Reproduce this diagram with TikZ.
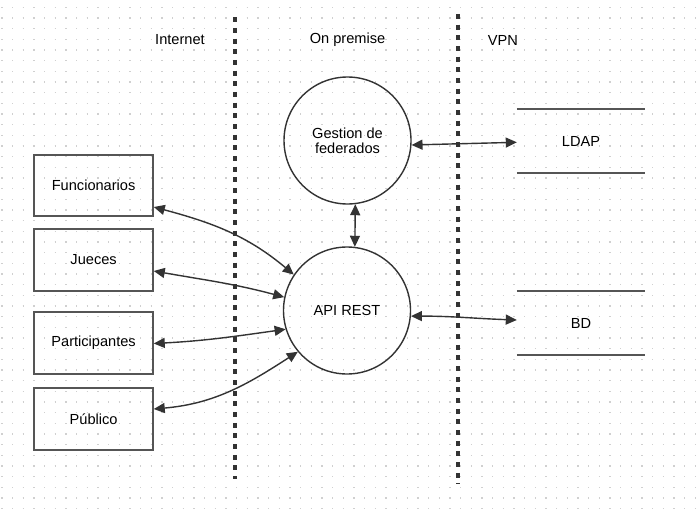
\documentclass[tikz,border=0pt]{standalone}
\usepackage{fontspec}
\setmainfont{Liberation Sans}
\usetikzlibrary{arrows.meta}
\definecolor{linec}{HTML}{333333}
\definecolor{boxc}{HTML}{555555}
\definecolor{gridc}{HTML}{D0D0D0}
\tikzset{
  lbl/.style={font=\fontsize{14.6}{17}\selectfont, text=black, inner sep=0pt, align=center},
  actor/.style={lbl, draw=boxc, line width=1.8pt, minimum width=118.5pt, minimum height=61.5pt},
  proc/.style={lbl, draw=linec, line width=1.4pt, circle, minimum size=127pt, inner sep=0pt},
  store/.style={lbl, minimum width=128pt, minimum height=64pt},
  storeline/.style={draw=boxc, line width=1.8pt},
  zone/.style={draw=linec, line width=3.2pt, dash pattern=on 5pt off 5.67pt},
  conn/.style={draw=linec, line width=1.4pt, {Triangle[length=11pt,width=10pt]}-{Triangle[length=11pt,width=10pt]}}
}
\begin{document}
\begin{tikzpicture}[x=1pt,y=-1pt]
\useasboundingbox (0,0) rectangle (700,508);
\fill[white] (0,0) rectangle (700,508);
% grid
\foreach \k in {0,...,47}{
  \draw[gridc, line width=1.2pt, dash pattern=on 1.2pt off 9.467pt] (1.4,7.3+\k*10.667) -- (700,7.3+\k*10.667);
}
% zone separators
\coordinate (z1t) at (235,17.3);
\coordinate (z1b) at (235,479);
\coordinate (z2t) at (458,14);
\coordinate (z2b) at (458,484);
\draw[zone] (z1t) -- (z1b);
\draw[zone] (z2t) -- (z2b);
% zone labels
\node[lbl] (internet) at (180,40) {Internet};
\node[lbl] (onprem) at (347.5,40) {On premise};
\node[lbl] (vpn) at (503,40) {VPN};
% actors
\node[actor] (fun) at (93.6,185.5) {Funcionarios};
\node[actor] (jue) at (93.6,260) {Jueces};
\node[actor] (par) at (93.6,343) {Participantes};
\node[actor] (pub) at (93.6,419) {Público};
% processes
\node[proc] (gest) at (347.5,140.5) {Gestion de\\[-2pt]federados};
\node[proc] (api) at (347,310.5) {API REST};
% stores
\node[store] (ldap) at (581,141) {LDAP};
\node[store] (bd) at (581,323) {BD};
\draw[storeline] (ldap.north west) -- (ldap.north east);
\draw[storeline] (ldap.south west) -- (ldap.south east);
\draw[storeline] (bd.north west) -- (bd.north east);
\draw[storeline] (bd.south west) -- (bd.south east);
% connectors
\draw[conn] ([yshift=-21.5pt]fun.east) to[out=-15, in=140] (api.146.3);
\draw[conn] ([yshift=-11pt]jue.east) to[out=-10, in=165] (api.168.3);
\draw[conn] ([yshift=-0.5pt]par.east) to[out=3, in=-172] (api.197.6);
\draw[conn] ([yshift=10pt]pub.east) to[out=5, in=-147] (api.220.7);
\draw[conn] (gest.-83.9) -- (api.83.5);
\draw[conn] (gest.-4) -- ([yshift=-1.3pt]ldap.west);
\draw[conn] (api.-5.5) to[out=0, in=178] ([yshift=3pt]bd.west);
\end{tikzpicture}
\end{document}
